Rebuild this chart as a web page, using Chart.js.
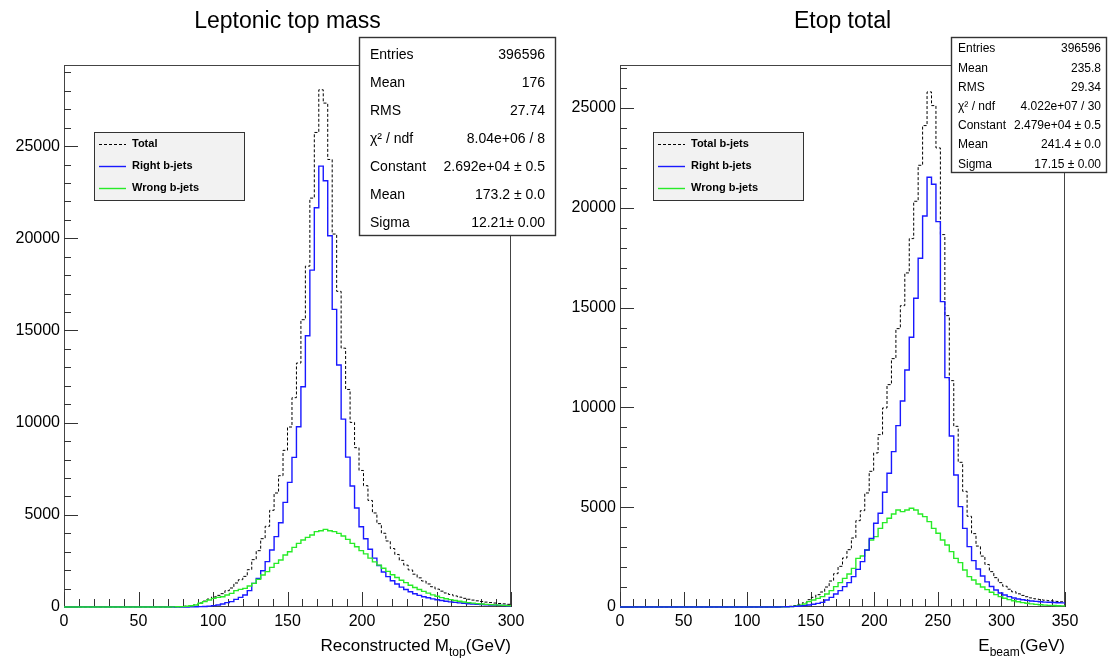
<!DOCTYPE html>
<html>
<head>
<meta charset="utf-8">
<script src="https://cdn.jsdelivr.net/npm/chart.js@4.4.1/dist/chart.umd.min.js"></script>
<style>
  html, body { margin: 0; padding: 0; background: #fff; }
  #wrap { position: relative; width: 1108px; height: 658px; }
  canvas { position: absolute; left: 0; top: 0; }
</style>
</head>
<body>
<div id="wrap">
  <canvas id="massChart" width="1108" height="658"></canvas>
  <canvas id="etopChart" width="1108" height="658"></canvas>
</div>
<script>
// -------------------------------
// DATA: Leptonic top mass (100 bins, 0-300 GeV)
// -------------------------------
const massRange = [0, 300];
const massXTicks = [0, 50, 100, 150, 200, 250, 300];
const massTotal = [
  0, 0, 0, 0, 0, 0, 0, 0, 0, 0,
  0, 0, 0, 0, 0, 0, 0, 0, 0, 0,
  0, 0, 0, 0, 5, 10, 22, 44, 76, 120,
  218, 320, 430, 542, 632, 723, 885, 1031, 1302, 1482,
  1662, 2025, 2568, 3055, 3706, 4376, 5244, 6183, 7123, 8497,
  9763, 11354, 13233, 15584, 18489, 22180, 25741, 28055, 27333, 24275,
  20231, 17122, 14041, 11800, 10013, 8642, 7406, 6580, 5780, 5100,
  4520, 4000, 3580, 3170, 2850, 2530, 2270, 2010, 1780, 1580,
  1410, 1250, 1100, 970, 860, 760, 680, 600, 535, 470,
  420, 375, 335, 300, 265, 240, 215, 190, 170, 145
];
const massRight = [
  0, 0, 0, 0, 0, 0, 0, 0, 0, 0,
  0, 0, 0, 0, 0, 0, 0, 0, 0, 0,
  0, 0, 0, 0, 0, 0, 2, 4, 6, 10,
  18, 30, 50, 72, 108, 163, 235, 290, 416, 524,
  650, 886, 1284, 1555, 1970, 2459, 3092, 3815, 4574, 5677,
  6762, 8118, 9780, 11950, 14710, 18275, 21655, 23915, 23120, 20135,
  16145, 13126, 10190, 8130, 6560, 5370, 4350, 3700, 3130, 2650,
  2250, 1900, 1650, 1420, 1250, 1080, 950, 830, 720, 630,
  560, 500, 440, 390, 350, 310, 280, 250, 225, 200,
  180, 165, 150, 135, 120, 110, 100, 90, 80, 70
];
const massWrong = [
  0, 0, 0, 0, 0, 0, 0, 0, 0, 0,
  0, 0, 0, 0, 0, 0, 0, 0, 0, 0,
  0, 0, 0, 0, 5, 10, 20, 40, 70, 110,
  200, 290, 380, 470, 524, 560, 650, 741, 886, 958,
  1012, 1139, 1284, 1500, 1736, 1917, 2152, 2368, 2549, 2820,
  3001, 3236, 3453, 3634, 3779, 3905, 4086, 4140, 4213, 4140,
  4086, 3996, 3851, 3670, 3453, 3272, 3056, 2880, 2650, 2450,
  2270, 2100, 1930, 1750, 1600, 1450, 1320, 1180, 1060, 950,
  850, 750, 660, 580, 510, 450, 400, 350, 310, 270,
  240, 210, 185, 165, 145, 130, 115, 100, 90, 75
];
const massYMax = 29400;
const massLegend = ["Total", "Right b-jets", "Wrong b-jets"];
const massStats = [
  ["Entries", "396596"],
  ["Mean", "176"],
  ["RMS", "27.74"],
  ["\u03c7\u00b2 / ndf", "8.04e+06 / 8"],
  ["Constant", "2.692e+04 \u00b1 0.5"],
  ["Mean", "173.2 \u00b1 0.0"],
  ["Sigma", "12.21\u00b1 0.00"]
];

// -------------------------------
// DATA: Etop total (100 bins, 0-350 GeV)
// -------------------------------
const etopRange = [0, 350];
const etopXTicks = [0, 50, 100, 150, 200, 250, 300, 350];
const etopTotal = [
  0, 0, 0, 0, 0, 0, 0, 0, 0, 0,
  0, 0, 0, 0, 0, 0, 0, 0, 0, 0,
  0, 0, 0, 0, 0, 0, 0, 0, 0, 0,
  0, 0, 0, 0, 1, 3, 10, 20, 37, 73,
  134, 217, 367, 484, 618, 752, 1001, 1302, 1670, 2037,
  2455, 2872, 3457, 4325, 4826, 5712, 6797, 7716, 8634, 9970,
  11139, 12441, 13945, 15096, 16734, 18453, 20324, 22127, 24115, 25801,
  25116, 22996, 18654, 14596, 11339, 9051, 7248, 5795, 4543, 3674,
  3052, 2550, 2130, 1770, 1470, 1220, 1040, 890, 760, 660,
  580, 515, 455, 410, 370, 340, 317, 297, 278, 260
];
const etopRight = [
  0, 0, 0, 0, 0, 0, 0, 0, 0, 0,
  0, 0, 0, 0, 0, 0, 0, 0, 0, 0,
  0, 0, 0, 0, 0, 0, 0, 0, 0, 0,
  0, 0, 0, 0, 1, 3, 5, 10, 17, 33,
  50, 67, 100, 134, 184, 234, 350, 484, 651, 818,
  1019, 1219, 1520, 1887, 2271, 2856, 3440, 4192, 4693, 5745,
  6697, 7782, 9085, 10320, 11874, 13510, 15464, 17468, 19589, 21526,
  21175, 19305, 15297, 11490, 8567, 6613, 5027, 3941, 3023, 2321,
  1900, 1550, 1260, 1030, 850, 700, 600, 520, 450, 400,
  360, 330, 300, 280, 260, 245, 235, 225, 215, 205
];
const etopWrong = [
  0, 0, 0, 0, 0, 0, 0, 0, 0, 0,
  0, 0, 0, 0, 0, 0, 0, 0, 0, 0,
  0, 0, 0, 0, 0, 0, 0, 0, 0, 0,
  0, 0, 0, 0, 0, 0, 5, 10, 20, 40,
  84, 150, 267, 350, 434, 518, 651, 818, 1019, 1219,
  1436, 1653, 1937, 2438, 2555, 2856, 3357, 3524, 3941, 4225,
  4442, 4659, 4860, 4776, 4860, 4943, 4860, 4659, 4526, 4275,
  3941, 3691, 3357, 3106, 2772, 2438, 2221, 1854, 1520, 1353,
  1152, 1000, 870, 740, 620, 520, 440, 370, 310, 260,
  220, 185, 155, 130, 110, 95, 82, 72, 63, 55
];
const etopYMax = 27150;
const etopLegend = ["Total b-jets", "Right b-jets", "Wrong b-jets"];
const etopStats = [
  ["Entries", "396596"],
  ["Mean", "235.8"],
  ["RMS", "29.34"],
  ["\u03c7\u00b2 / ndf", "4.022e+07 / 30"],
  ["Constant", "2.479e+04 \u00b1 0.5"],
  ["Mean", "241.4 \u00b1 0.0"],
  ["Sigma", "17.15 \u00b1 0.00"]
];

// shared y tick labels
const yTicks = [0, 5000, 10000, 15000, 20000, 25000];

// -------------------------------
// STYLE
// -------------------------------
const FONT = '"Liberation Sans", Arial, Helvetica, sans-serif';
const totalColor = "#000000";
const rightColor = "rgb(25,25,255)";
const wrongColor = "rgb(40,235,40)";

// histogram -> step points (low edge of every bin, plus closing edge)
function histPoints(values, range) {
  const w = (range[1] - range[0]) / values.length;
  const pts = values.map((v, i) => ({ x: range[0] + i * w, y: v }));
  pts.push({ x: range[1], y: values[values.length - 1] });
  return pts;
}

function histDataset(label, values, range, color, dash, width) {
  return {
    label: label,
    data: histPoints(values, range),
    borderColor: color,
    borderWidth: width,
    borderDash: dash,
    stepped: "before",
    pointRadius: 0,
    fill: false,
    clip: 3,
  };
}

// -------------------------------
// ROOT-LIKE DECORATIONS
// -------------------------------
const rootStyle = {
  id: "rootStyle",
  beforeDatasetsDraw(chart, args, o) {
    const ctx = chart.ctx;
    const a = chart.chartArea;
    const xs = chart.scales.x;
    const ys = chart.scales.y;
    ctx.save();
    // frame
    ctx.strokeStyle = "#444";
    ctx.lineWidth = 1;
    ctx.strokeRect(a.left + 0.5, a.top + 0.5, a.right - a.left - 1, a.bottom - a.top - 1);
    // ticks pointing into the frame
    ctx.strokeStyle = "#333";
    ctx.beginPath();
    for (let v = xs.min; v <= xs.max + 1e-6; v += o.xMinor) {
      const px = Math.round(xs.getPixelForValue(v)) + 0.5;
      const len = Math.abs(v % o.xMajor) < 1e-6 ? 15 : 8;
      ctx.moveTo(px, a.bottom);
      ctx.lineTo(px, a.bottom - len);
    }
    for (let v = 0; v <= ys.max; v += o.yMinor) {
      const py = Math.round(ys.getPixelForValue(v)) + 0.5;
      const len = v % o.yMajor === 0 ? 14 : 7;
      ctx.moveTo(a.left, py);
      ctx.lineTo(a.left + len, py);
    }
    ctx.stroke();
    ctx.restore();
  },
  afterDraw(chart, args, o) {
    const ctx = chart.ctx;
    const a = chart.chartArea;
    ctx.save();
    ctx.fillStyle = "#000";

    // title
    ctx.font = "23px " + FONT;
    ctx.textAlign = "center";
    ctx.textBaseline = "alphabetic";
    ctx.fillText(o.title, (a.left + a.right) / 2, 28);

    // x axis title with subscript, right aligned to the frame
    const t = o.xTitle;
    ctx.font = "17px " + FONT;
    const w0 = ctx.measureText(t[0]).width;
    const w2 = ctx.measureText(t[2]).width;
    ctx.font = "12px " + FONT;
    const w1 = ctx.measureText(t[1]).width;
    let x = a.right - (w0 + w1 + w2);
    const base = 651;
    ctx.textAlign = "left";
    ctx.font = "17px " + FONT;
    ctx.fillText(t[0], x, base);
    x += w0;
    ctx.font = "12px " + FONT;
    ctx.fillText(t[1], x, base + 5);
    x += w1;
    ctx.font = "17px " + FONT;
    ctx.fillText(t[2], x, base);

    // legend
    const L = o.legend;
    ctx.fillStyle = "#f2f2f2";
    ctx.fillRect(L.x, L.y, L.w, L.h);
    ctx.strokeStyle = "#333";
    ctx.lineWidth = 1;
    ctx.strokeRect(L.x + 0.5, L.y + 0.5, L.w, L.h);
    ctx.font = "bold 11px " + FONT;
    ctx.textBaseline = "middle";
    L.labels.forEach((lab, i) => {
      const ds = chart.data.datasets.find((d) => d.label === lab);
      const y = L.y + 12 + i * 22;
      ctx.beginPath();
      ctx.setLineDash(ds.borderDash || []);
      ctx.strokeStyle = ds.borderColor;
      ctx.lineWidth = ds.borderWidth;
      ctx.moveTo(L.x + 5, y + 0.5);
      ctx.lineTo(L.x + 32, y + 0.5);
      ctx.stroke();
      ctx.setLineDash([]);
      ctx.fillStyle = "#000";
      ctx.fillText(lab, L.x + 38, y);
    });

    // stats box
    const S = o.stats;
    ctx.fillStyle = "#fff";
    ctx.fillRect(S.x, S.y, S.w, S.h);
    ctx.strokeStyle = "#333";
    ctx.strokeRect(S.x + 0.5, S.y + 0.5, S.w, S.h);
    ctx.fillStyle = "#000";
    ctx.font = S.size + "px " + FONT;
    S.rows.forEach((r, i) => {
      const y = S.first + i * S.step;
      ctx.textAlign = "left";
      ctx.fillText(r[0], S.x + S.padL, y);
      ctx.textAlign = "right";
      ctx.fillText(r[1], S.x + S.w - S.padR, y);
    });
    ctx.restore();
  },
};

function makeChart(id, cfg) {
  const ctx = document.getElementById(id).getContext("2d");
  return new Chart(ctx, {
    type: "line",
    data: { datasets: cfg.datasets },
    options: {
      responsive: false,
      animation: false,
      events: [],
      layout: { padding: cfg.padding },
      scales: {
        x: {
          type: "linear",
          min: cfg.range[0],
          max: cfg.range[1],
          afterFit: (s) => { s.height = 51; },
          afterBuildTicks: (s) => { s.ticks = cfg.xTicks.map((v) => ({ value: v })); },
          grid: { display: false, drawTicks: false },
          border: { display: false },
          ticks: {
            maxRotation: 0,
            autoSkip: false,
            padding: 5,
            color: "#000",
            font: { family: FONT, size: 16 },
            callback: (v) => String(v),
          },
        },
        y: {
          min: 0,
          max: cfg.yMax,
          afterFit: (s) => { s.width = cfg.yWidth; },
          afterBuildTicks: (s) => { s.ticks = yTicks.map((v) => ({ value: v })); },
          grid: { display: false, drawTicks: false },
          border: { display: false },
          ticks: {
            autoSkip: false,
            padding: 4,
            color: "#000",
            font: { family: FONT, size: 16 },
            callback: (v) => String(v),
          },
        },
      },
      plugins: {
        legend: { display: false },
        tooltip: { enabled: false },
        rootStyle: cfg.decor,
      },
    },
    plugins: [rootStyle],
  });
}

// -------------------------------
// CHARTS
// -------------------------------
makeChart("massChart", {
  range: massRange,
  xTicks: massXTicks,
  yMax: massYMax,
  yWidth: 64,
  padding: { left: 0, top: 65, right: 597, bottom: 0 },
  datasets: [
    histDataset(massLegend[2], massWrong, massRange, wrongColor, [], 1.4),
    histDataset(massLegend[1], massRight, massRange, rightColor, [], 1.4),
    histDataset(massLegend[0], massTotal, massRange, totalColor, [3, 2], 1),
  ],
  decor: {
    title: "Leptonic top mass",
    xTitle: ["Reconstructed M", "top", "(GeV)"],
    xMinor: 10, xMajor: 50, yMinor: 1000, yMajor: 5000,
    legend: { x: 94, y: 132, w: 150, h: 68, labels: massLegend },
    stats: { x: 359, y: 37, w: 196, h: 198, size: 14, first: 55, step: 28, padL: 11, padR: 10, rows: massStats },
  },
});

makeChart("etopChart", {
  range: etopRange,
  xTicks: etopXTicks,
  yMax: etopYMax,
  yWidth: 66,
  padding: { left: 554, top: 65, right: 43, bottom: 0 },
  datasets: [
    histDataset(etopLegend[1], etopRight, etopRange, rightColor, [], 1.4),
    histDataset(etopLegend[2], etopWrong, etopRange, wrongColor, [], 1.4),
    histDataset(etopLegend[0], etopTotal, etopRange, totalColor, [3, 2], 1),
  ],
  decor: {
    title: "Etop total",
    xTitle: ["E", "beam", "(GeV)"],
    xMinor: 10, xMajor: 50, yMinor: 1000, yMajor: 5000,
    legend: { x: 653, y: 132, w: 150, h: 68, labels: etopLegend },
    stats: { x: 951, y: 37, w: 155, h: 135, size: 12, first: 49, step: 19.2, padL: 7, padR: 5, rows: etopStats },
  },
});
</script>
</body>
</html>
